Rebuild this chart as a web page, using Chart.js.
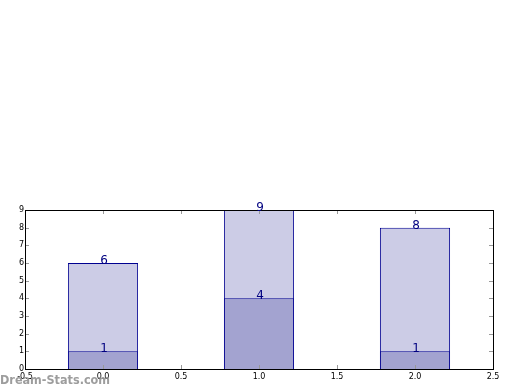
<!DOCTYPE html>
<html><head><meta charset="utf-8">
<script src="https://cdn.jsdelivr.net/npm/chart.js@4/dist/chart.umd.min.js"></script>
<style>html,body{margin:0;padding:0;background:#fff}#wrap{position:relative;width:520px;height:390px}
#wm{position:absolute;left:0;top:372px;font:bold 12.5px "DejaVu Sans Condensed","DejaVu Sans",sans-serif;font-stretch:condensed;color:rgba(140,140,140,0.85);pointer-events:none;white-space:nowrap}</style>
</head><body>
<div id="wrap"><canvas id="c" width="520" height="390"></canvas><div id="wm">Dream-Stats.com</div></div>
<script>
const positions = [0, 1, 2];
const partValues = [1, 4, 1];
const totalValues = [6, 9, 8];
const xTickLabels = ["-0.5", "0.0", "0.5", "1.0", "1.5", "2.0", "2.5"];
const yTicks = [0,1,2,3,4,5,6,7,8,9];

const innerTicks = {
  id: 'innerTicks',
  afterDraw(chart) {
    const {ctx, chartArea: a, scales: {x, y}} = chart;
    ctx.save();
    ctx.strokeStyle = '#999';
    ctx.lineWidth = 1;
    ctx.beginPath();
    x.ticks.forEach(t => {
      const px = Math.round(x.getPixelForValue(t.value)) + 0.5;
      ctx.moveTo(px, a.bottom); ctx.lineTo(px, a.bottom - 4);
      ctx.moveTo(px, a.top); ctx.lineTo(px, a.top + 4);
    });
    y.ticks.forEach(t => {
      const py = Math.round(y.getPixelForValue(t.value)) + 0.5;
      ctx.moveTo(a.left, py); ctx.lineTo(a.left + 4, py);
      ctx.moveTo(a.right, py); ctx.lineTo(a.right - 4, py);
    });
    ctx.stroke();
    ctx.strokeStyle = '#000';
    ctx.strokeRect(Math.round(a.left) + 0.5, Math.round(a.top) + 0.5, Math.round(a.right - a.left), Math.round(a.bottom - a.top));
    ctx.fillStyle = '#000080';
    ctx.font = '12px "DejaVu Sans", sans-serif';
    ctx.textAlign = 'center';
    ctx.textBaseline = 'alphabetic';
    const draw = (vals) => vals.forEach((v, i) => {
      ctx.fillText(String(v), x.getPixelForValue(positions[i]) + 1, y.getPixelForValue(v) + 1);
    });
    draw(totalValues); draw(partValues);
    ctx.restore();
  }
};

new Chart(document.getElementById('c'), {
  type: 'bar',
  data: {
    datasets: [
      { data: positions.map((p, i) => ({x: p, y: partValues[i]})), backgroundColor: 'rgb(163,163,208)', borderColor: '#000090', borderWidth: 1, grouped: false, order: 0, barPercentage: 0.9, categoryPercentage: 1 },
      { data: positions.map((p, i) => ({x: p, y: totalValues[i]})), backgroundColor: 'rgb(204,204,230)', borderColor: '#000090', borderWidth: 1, grouped: false, order: 1, barPercentage: 0.9, categoryPercentage: 1 }
    ]
  },
  options: {
    responsive: false, animation: false,
    layout: { padding: { left: 0, top: 210, right: 27, bottom: 0 } },
    plugins: { legend: { display: false }, tooltip: { enabled: false } },
    scales: {
      x: {
        type: 'linear', min: -0.5, max: 2.5, offset: false,
        ticks: { stepSize: 0.5, color: '#000', font: { size: 8, family: 'DejaVu Sans' }, padding: 3,
          maxRotation: 0, autoSkip: false,
          callback: (v, i) => xTickLabels[i] },
        grid: { display: false, tickLength: 0 }, border: { display: false },
        afterFit: s => { s.height = 21; }
      },
      y: {
        min: 0, max: 9,
        ticks: { stepSize: 1, color: '#000', font: { size: 8, family: 'DejaVu Sans' }, padding: 1,
          callback: (v) => yTicks.includes(v) ? String(v) : '' },
        grid: { display: false, tickLength: 0 }, border: { display: false },
        afterFit: s => { s.width = 25; }
      }
    }
  },
  plugins: [innerTicks]
});
</script>
</body></html>
